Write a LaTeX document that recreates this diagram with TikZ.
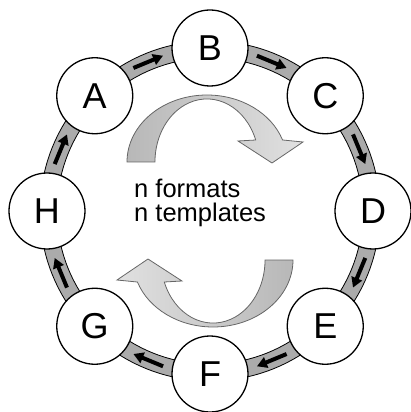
\documentclass[tikz,border=0pt]{standalone}
\usepackage{fontspec}
\setmainfont{Liberation Sans}
\usetikzlibrary{arrows.meta,calc}

\begin{document}
\begin{tikzpicture}[x=1pt, y=1pt, >={Triangle[length=10pt,width=11pt]},
    state/.style={circle, draw, line width=1.3pt, fill=white, minimum size=76pt, inner sep=0pt, font=\fontsize{36}{36}\selectfont},
    flow/.style={->, line width=4pt},
    turn/.style={draw=black!60, line width=0.8pt}]
    \useasboundingbox (-210,-201) rectangle (200,211);
    \coordinate (O) at (0,0);

    % ring band
    \draw[fill=black!33, line width=0.8pt, even odd rule] (O) circle (170) (O) circle (153);

    \node[state] (A) at (135:163) {A};
    \node[state] (B) at (90:163) {B};
    \node[state] (C) at (45:163) {C};
    \node[state] (D) at (0:163) {D};
    \node[state] (E) at (-45:163) {E};
    \node[state] (F) at (-90:163) {F};
    \node[state] (G) at (-135:163) {G};
    \node[state] (H) at (180:163) {H};

    \foreach \a/\b in {A/B,B/C,C/D,D/E,E/F,F/G,G/H,H/A}
        \draw[flow] ($(O)!1.072!($(\a)!0.38!(\b)$)$) -- ($(O)!1.072!($(\a)!0.62!(\b)$)$);

    % turning arrows in the middle
    \path[turn, left color=black!28, right color=black!12] (-83,49)
        arc[start angle=180, end angle=19.2, x radius=80, y radius=67]
        -- (93,69) -- (62,48) -- (28,70) -- (45.7,71)
        arc[start angle=20.4, end angle=180, x radius=52, y radius=63] -- cycle;
    \path[turn, left color=black!12, right color=black!28] (83,-49)
        arc[start angle=0, end angle=-160.8, x radius=80, y radius=67]
        -- (-93,-69) -- (-62,-48) -- (-28,-70) -- (-45.7,-71)
        arc[start angle=-159.6, end angle=0, x radius=52, y radius=63] -- cycle;

    \node[anchor=west, align=left, inner sep=0pt, font=\fontsize{25.5}{24}\selectfont] (label) at (-76,8) {n formats\\n templates};
\end{tikzpicture}
\end{document}
